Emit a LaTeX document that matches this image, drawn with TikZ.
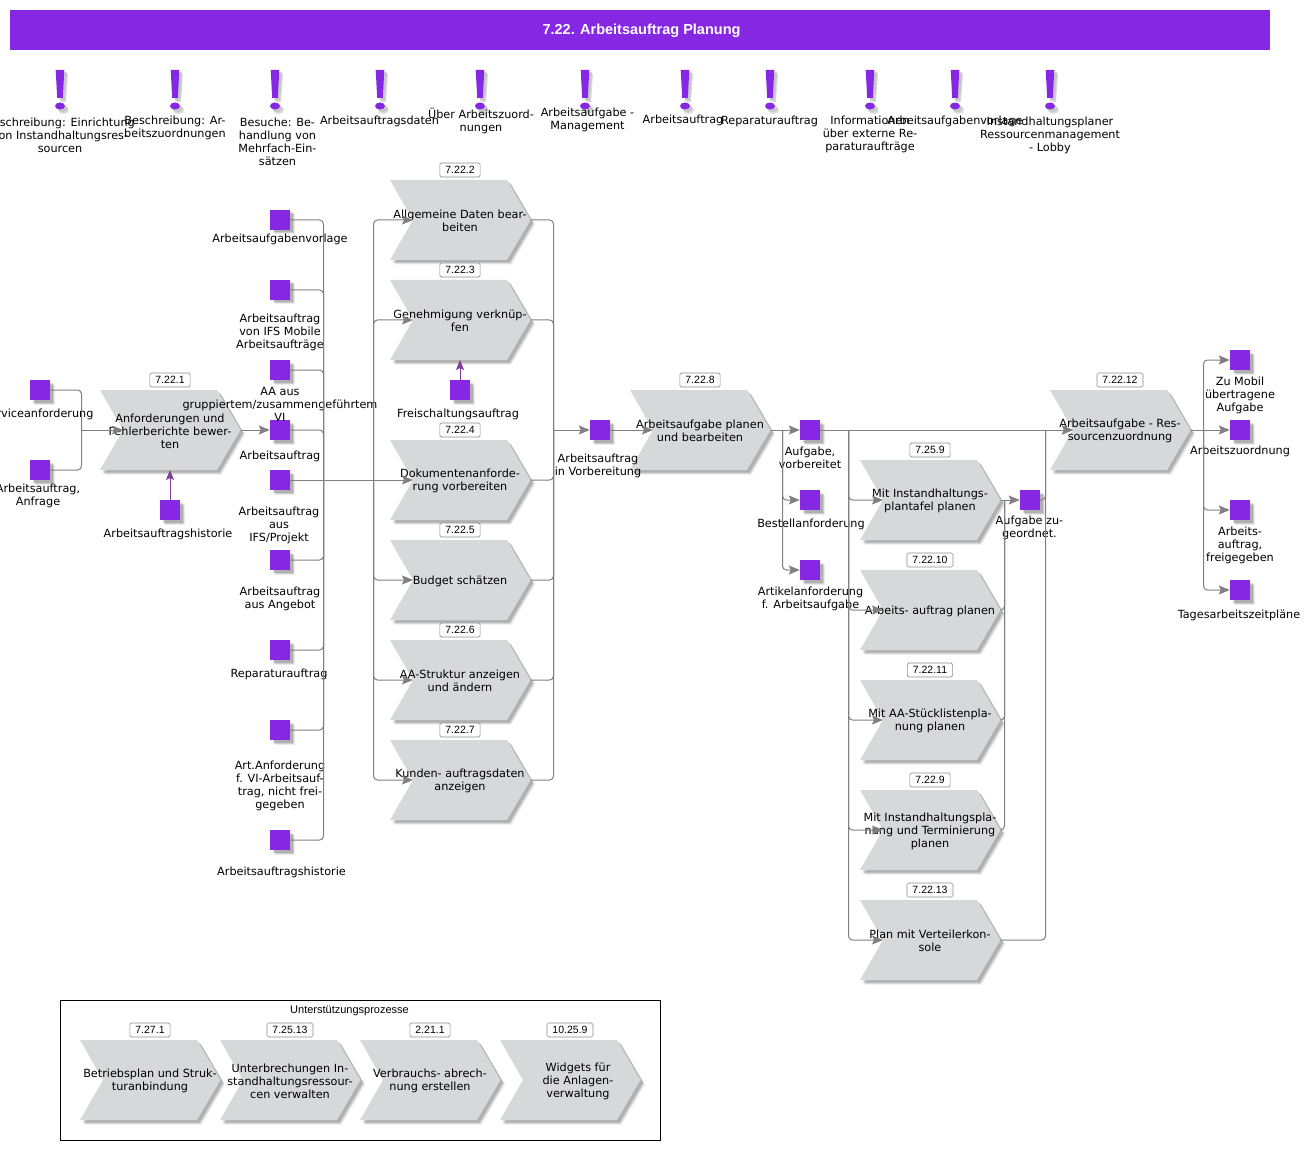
\documentclass[tikz,border=0pt]{standalone}
\usepackage{fontspec}
\setmainfont{DejaVu Sans}
\newfontfamily\arialfont{Liberation Sans}
\usetikzlibrary{arrows.meta,shadows}
\definecolor{vio}{HTML}{8628E3}
\definecolor{chevgray}{HTML}{D7D8DA}
\definecolor{conngray}{HTML}{808080}
\definecolor{inarrow}{HTML}{7F3F98}
\makeatletter
\pgfdeclareshape{chevronshape}{
  \savedanchor\centerpoint{%
    \pgf@x=.5\wd\pgfnodeparttextbox
    \pgf@y=.5\ht\pgfnodeparttextbox
    \advance\pgf@y by -.5\dp\pgfnodeparttextbox
    \advance\pgf@y by 1pt}
  \anchor{center}{\centerpoint}
  \anchor{west}{\pgfpointadd{\centerpoint}{\pgfpoint{-47pt}{0pt}}}
  \anchor{east}{\pgfpointadd{\centerpoint}{\pgfpoint{70.5pt}{0pt}}}
  \anchor{north}{\pgfpointadd{\centerpoint}{\pgfpoint{0pt}{40pt}}}
  \anchor{south}{\pgfpointadd{\centerpoint}{\pgfpoint{0pt}{-40pt}}}
  \backgroundpath{%
    \pgfpathmoveto{\pgfpointadd{\centerpoint}{\pgfpoint{-70pt}{40pt}}}%
    \pgfpathlineto{\pgfpointadd{\centerpoint}{\pgfpoint{47pt}{40pt}}}%
    \pgfpathlineto{\pgfpointadd{\centerpoint}{\pgfpoint{70.5pt}{0pt}}}%
    \pgfpathlineto{\pgfpointadd{\centerpoint}{\pgfpoint{47pt}{-40pt}}}%
    \pgfpathlineto{\pgfpointadd{\centerpoint}{\pgfpoint{-70pt}{-40pt}}}%
    \pgfpathlineto{\pgfpointadd{\centerpoint}{\pgfpoint{-47pt}{0pt}}}%
    \pgfpathclose}
}
\makeatother
\tikzset{
  softshadow/.style={
    drop shadow={shadow xshift=4.5pt,shadow yshift=-4.5pt,fill=black,opacity=.08},
    drop shadow={shadow xshift=3.5pt,shadow yshift=-3.5pt,fill=black,opacity=.12},
    drop shadow={shadow xshift=2.5pt,shadow yshift=-2.5pt,fill=black,opacity=.14}},
  sq/.style={fill=vio,minimum size=20pt,inner sep=0pt,softshadow},
  lbl/.style={font=\fontsize{11.25}{13}\selectfont,align=center,inner sep=0pt,yshift=-1.8pt},
  chev/.style={chevronshape,fill=chevgray,inner sep=0pt,font=\fontsize{11.25}{13}\selectfont,align=center,softshadow},
  tag/.style={draw=black!45,fill=white,rounded corners=1.5pt,line width=0.6pt,minimum width=40pt,minimum height=14pt,inner xsep=5.5pt,inner ysep=1pt,font=\arialfont\fontsize{10.5}{12}\selectfont},
  conn/.style={draw=conngray,line width=1pt,rounded corners=4pt},
  arr/.style={conn,-{Stealth[length=11pt,width=9pt,inset=2pt,fill=conngray]}},
  uparr/.style={draw=inarrow,line width=1pt,-{Stealth[length=10pt,width=8pt,inset=2pt]}},
  excl/.pic={
    \fill[black!14] (-1,4) -- (8,4) -- (6,32) -- (1,32) -- cycle;
    \fill[black!14] (3.5,40) ellipse (5.5 and 4);
    \fill[black!22] (-2,2.5) -- (7,2.5) -- (5,30.5) -- (0,30.5) -- cycle;
    \fill[black!22] (2.5,38.5) ellipse (5 and 3.5);
    \fill[vio] (-4.3,0) -- (4.3,0) -- (2.8,28) -- (-2.8,28) -- cycle;
    \fill[vio] (0,36) ellipse (5 and 3.5);
  }
}
\begin{document}
\begin{tikzpicture}[x=1pt,y=-1pt]
\useasboundingbox (0,0) rectangle (1312,1150);
\fill[white] (0,0) rectangle (1312,1150);
% title
\node[fill=vio,minimum width=1260pt,minimum height=40pt,inner sep=0pt] (title) at (640,30) {};
\node[text=white,font=\arialfont\bfseries\fontsize{14.5}{16}\selectfont,inner sep=0pt] (titletext) at (641.5,30.5) {7.22. Arbeitsauftrag Planung};
% exclamation marks and labels
\foreach \n/\x in {1/60,2/175,3/275,4/380,5/480,6/585,7/685,8/770,9/870,10/955,11/1050}
  \pic (ex\n) at (\x,70) {excl};
\node[lbl] (x1) at (60,134) {Beschreibung: Einrichtung\\von Instandhaltungsres-\\sourcen};
\node[lbl] (x2) at (175,126) {Beschreibung: Ar-\\beitszuordnungen};
\node[lbl] (x3) at (277.5,140) {Besuche: Be-\\handlung von\\Mehrfach-Ein-\\sätzen};
\node[lbl] (x4) at (379.5,120) {Arbeitsauftragsdaten};
\node[lbl] (x5) at (481,119.5) {Über Arbeitszuord-\\nungen};
\node[lbl] (x6) at (587.5,118.5) {Arbeitsaufgabe -\\Management};
\node[lbl] (x7) at (683,119) {Arbeitsauftrag};
\node[lbl] (x8) at (769.5,120) {Reparaturauftrag};
\node[lbl] (x9) at (870,133) {Informationen\\über externe Re-\\paraturaufträge};
\node[lbl] (x10) at (955,120) {Arbeitsaufgabenvorlage};
\node[lbl] (x11) at (1050,134) {Instandhaltungsplaner\\Ressourcenmanagement\\- Lobby};
% chevrons
\foreach \nm/\x/\y/\t/\txt in {
  c1/170/430/7.22.1/{Anforderungen und\\Fehlerberichte bewer-\\ten},
  c2/460/220/7.22.2/{Allgemeine Daten bear-\\beiten},
  c3/460/320/7.22.3/{Genehmigung verknüp-\\fen},
  c4/460/480/7.22.4/{Dokumentenanforde-\\rung vorbereiten},
  c5/460/580/7.22.5/{Budget schätzen},
  c6/460/680/7.22.6/{AA-Struktur anzeigen\\und ändern},
  c7/460/780/7.22.7/{Kunden- auftragsdaten\\anzeigen},
  c8/700/430/7.22.8/{Arbeitsaufgabe planen\\und bearbeiten},
  c9/930/500/7.25.9/{Mit Instandhaltungs-\\plantafel planen},
  c10/930/610/7.22.10/{Arbeits- auftrag planen},
  c11/930/720/7.22.11/{Mit AA-Stücklistenpla-\\nung planen},
  c12/930/830/7.22.9/{Mit Instandhaltungspla-\\nung und Terminierung\\planen},
  c13/930/940/7.22.13/{Plan mit Verteilerkon-\\sole},
  c14/1120/430/7.22.12/{Arbeitsaufgabe - Res-\\sourcenzuordnung},
  c15/150/1080/7.27.1/{Betriebsplan und Struk-\\turanbindung},
  c16/290/1080/7.25.13/{Unterbrechungen In-\\standhaltungsressour-\\cen verwalten},
  c17/430/1080/2.21.1/{Verbrauchs- abrech-\\nung erstellen},
  c18/570/1080/10.25.9/{\hspace*{16pt}Widgets für\\\hspace*{16pt}die Anlagen-\\\hspace*{16pt}verwaltung}}{
  \node[chev] (\nm) at (\x,\y) {\txt};
  \node[tag] (t\nm) at (\x,\y-50) {\t};
}
% squares
\foreach \nm/\x/\y in {s1/40/390,s2/40/470,s3/170/510,a1/280/220,a2/280/290,a3/280/370,a4/280/430,a5/280/480,a6/280/560,a7/280/650,a8/280/730,a9/280/840,f/460/390,v/600/430,o1/810/430,o2/810/500,o3/810/570,z/1030/500,e1/1240/360,e2/1240/430,e3/1240/510,e4/1240/590}
  \node[sq] (\nm) at (\x,\y) {};
% labels of squares
\node[lbl] (ls1) at (38,413) {Serviceanforderung};
\node[lbl] (ls2) at (38,494.5) {Arbeitsauftrag,\\Anfrage};
\node[lbl] (ls3) at (168,533) {Arbeitsauftragshistorie};
\node[lbl] (la1) at (280,238) {Arbeitsaufgabenvorlage};
\node[lbl] (la2) at (280,331) {Arbeitsauftrag\\von IFS Mobile\\Arbeitsaufträge};
\node[lbl] (la3) at (280,403) {AA aus\\gruppiertem/zusammengeführtem\\VI};
\node[lbl] (la4) at (280,455) {Arbeitsauftrag};
\node[lbl] (la5) at (279,524) {Arbeitsauftrag\\aus\\IFS/Projekt};
\node[lbl] (la6) at (280,597.5) {Arbeitsauftrag\\aus Angebot};
\node[lbl] (la7) at (279,673) {Reparaturauftrag};
\node[lbl] (la8) at (280,784.5) {Art.Anforderung\\f. VI-Arbeitsauf-\\trag, nicht frei-\\gegeben};
\node[lbl] (la9) at (281.5,871) {Arbeitsauftragshistorie};
\node[lbl] (lf) at (458,413) {Freischaltungsauftrag};
\node[lbl] (lv) at (598,464.5) {Arbeitsauftrag\\in Vorbereitung};
\node[lbl] (lo1) at (810,456.5) {Aufgabe,\\vorbereitet};
\node[lbl] (lo2) at (811,523) {Bestellanforderung};
\node[lbl] (lo3) at (810.5,597.5) {Artikelanforderung\\f. Arbeitsaufgabe};
\node[lbl] (lz) at (1029.5,526.5) {Aufgabe zu-\\geordnet.};
\node[lbl] (le1) at (1240,394) {Zu Mobil\\übertragene\\Aufgabe};
\node[lbl] (le2) at (1240,450) {Arbeitszuordnung};
\node[lbl] (le3) at (1240,544) {Arbeits-\\auftrag,\\freigegeben};
\node[lbl] (le4) at (1239,614) {Tagesarbeitszeitpläne};
% support frame
\node[draw=black,line width=0.7pt,minimum width=600pt,minimum height=140pt,inner sep=0pt] (frame) at (360.5,1070.5) {};
\node[font=\arialfont\fontsize{11}{12}\selectfont,inner sep=0pt] (frametitle) at (349.5,1010.5) {Unterstützungsprozesse};
% bus coordinates
\coordinate (bl) at (81.5,430);
\coordinate (b1) at (323.5,480);
\coordinate (b2) at (373.5,480);
\coordinate (b3) at (553.5,430);
\coordinate (b4) at (782.5,430);
\coordinate (b5) at (848.5,430);
\coordinate (b6) at (1004.5,500);
\coordinate (b7) at (1045.5,430);
\coordinate (b8) at (1203.5,430);
% connectors
\draw[conn] (s1.east) -| (bl);
\draw[conn] (s2.east) -| (bl);
\draw[arr] (bl) -- (c1.west);
\draw[arr] (c1.east) -- (a4.west);
\draw[uparr] (s3.north) -- (c1.south);
\draw[uparr] (f.north) -- (c3.south);
\foreach \s in {a1,a2,a3,a4,a6,a7,a8,a9} \draw[conn] (\s.east) -| (b1);
\draw[conn] (a5.east) -- (b2);
\foreach \c in {c2,c3,c5,c6,c7} \draw[arr] (b2) |- (\c.west);
\draw[arr] (b2) -- (c4.west);
\foreach \c in {c2,c3,c4,c5,c6,c7} \draw[conn] (\c.east) -| (b3);
\draw[arr] (b3) -- (v.west);
\draw[arr] (v.east) -- (c8.west);
\draw[conn] (c8.east) -- (b4);
\draw[arr] (b4) -- (o1.west);
\draw[arr] (b4) |- (o2.west);
\draw[arr] (b4) |- (o3.west);
\draw[arr] (o1.east) -- (c14.west);
\foreach \c in {c9,c10,c11,c12,c13} \draw[arr] (b5) |- (\c.west);
\foreach \c in {c10,c11,c12} \draw[conn] (\c.east) -| (b6);
\draw[conn] (c9.east) -- (b6);
\draw[arr] (b6) -- (z.west);
\draw[conn] (z.east) -| (b7);
\draw[conn] (c13.east) -| (b7);
\draw[arr] (b7) -- (c14.west);
\draw[conn] (c14.east) -- (b8);
\foreach \e in {e1,e3,e4} \draw[arr] (b8) |- (\e.west);
\draw[arr] (b8) -- (e2.west);
\end{tikzpicture}
\end{document}
